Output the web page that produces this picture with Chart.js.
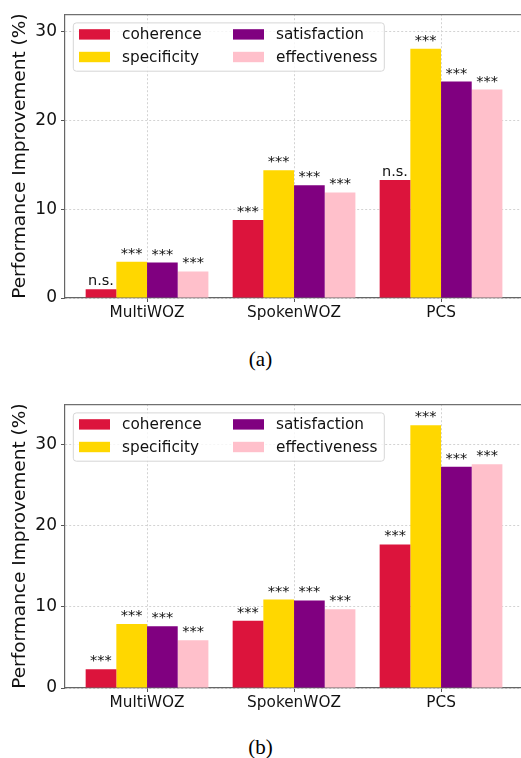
<!DOCTYPE html>
<html>
<head>
<meta charset="utf-8">
<script src="https://cdn.jsdelivr.net/npm/chart.js@4.4.1/dist/chart.umd.min.js"></script>
<style>
  html, body { margin: 0; padding: 0; background: #fff; overflow: hidden; width: 521px; height: 758px; }
  .panel { position: absolute; left: 0; width: 521px; height: 330px; }
  .caption { position: absolute; left: 0; width: 521px; text-align: center; font-family: 'Liberation Serif', 'Times New Roman', serif; font-size: 21px; line-height: 24px; color: #000; }
</style>
</head>
<body>
<div class="panel" style="top: 0px;"><canvas id="chartA"></canvas></div>
<div class="caption" style="top: 347px;">(a)</div>
<div class="panel" style="top: 390px;"><canvas id="chartB"></canvas></div>
<div class="caption" style="top: 735px;">(b)</div>
<script>
const datasetNames = ['MultiWOZ', 'SpokenWOZ', 'PCS']
const metrics = ['coherence', 'specificity', 'satisfaction', 'effectiveness']
const metricColors = ['#dc143c', '#ffd700', '#800080', '#ffc0cb']

// panel (a)
const coherenceA = [1.0, 8.8, 13.3]
const specificityA = [4.1, 14.4, 28.1]
const satisfactionA = [4.0, 12.7, 24.4]
const effectivenessA = [3.0, 11.9, 23.5]
const coherenceSigA = ['n.s.', '***', 'n.s.']
const specificitySigA = ['***', '***', '***']
const satisfactionSigA = ['***', '***', '***']
const effectivenessSigA = ['***', '***', '***']

// panel (b)
const coherenceB = [2.3, 8.3, 17.7]
const specificityB = [7.9, 10.9, 32.4]
const satisfactionB = [7.6, 10.8, 27.3]
const effectivenessB = [5.9, 9.7, 27.6]
const coherenceSigB = ['***', '***', '***']
const specificitySigB = ['***', '***', '***']
const satisfactionSigB = ['***', '***', '***']
const effectivenessSigB = ['***', '***', '***']

Chart.defaults.font.family = '"DejaVu Sans", sans-serif'
Chart.defaults.color = '#000'

// significance marks, top spine and the in-axes legend
const overlayPlugin = {
  id: 'overlay',
  afterDatasetsDraw (chart, args, opts) {
    const ctx = chart.ctx
    const ca = chart.chartArea
    ctx.save()

    ctx.font = '14.5px "DejaVu Sans"'
    ctx.fillStyle = '#111'
    ctx.textAlign = 'center'
    ctx.textBaseline = 'alphabetic'
    chart.data.datasets.forEach((ds, i) => {
      chart.getDatasetMeta(i).data.forEach((bar, j) => {
        ctx.fillText(opts.marks[i][j], bar.x, bar.y - 4)
      })
    })

    ctx.strokeStyle = '#707070'
    ctx.lineWidth = 1.2
    ctx.beginPath()
    ctx.moveTo(ca.left, ca.top + 0.5)
    ctx.lineTo(chart.width, ca.top + 0.5)
    ctx.stroke()

    // legend box, filled column by column like matplotlib ncol=2
    const bx = ca.left + 8.3
    const by = ca.top + 8.7
    ctx.beginPath()
    ctx.roundRect(bx, by, 311, 48.3, 3)
    ctx.fillStyle = 'rgba(255,255,255,0.8)'
    ctx.fill()
    ctx.strokeStyle = '#d6d6d6'
    ctx.lineWidth = 1
    ctx.stroke()

    ctx.font = '15.3px "DejaVu Sans"'
    ctx.textAlign = 'left'
    ctx.textBaseline = 'middle'
    const colX = [ca.left + 14, ca.left + 168]
    const rowY = [ca.top + 20.2, ca.top + 42.8]
    chart.data.datasets.forEach((ds, i) => {
      const x = colX[Math.floor(i / 2)]
      const y = rowY[i % 2]
      ctx.fillStyle = ds.backgroundColor
      ctx.fillRect(x, y - 5.2, 31, 10.4)
      ctx.fillStyle = '#111'
      ctx.fillText(ds.label, x + 43, y + 1)
    })
    ctx.restore()
  }
}

function makeChart (id, series, marks, yMax) {
  return new Chart(document.getElementById(id), {
    type: 'bar',
    data: {
      datasets: metrics.map((m, i) => ({
        label: m,
        data: series[i].map((v, j) => ({ x: j, y: v })),
        backgroundColor: metricColors[i],
        borderWidth: 0,
        categoryPercentage: 0.835,
        barPercentage: 1.0
      }))
    },
    options: {
      responsive: true,
      maintainAspectRatio: false,
      animation: false,
      layout: { padding: { top: 14, right: 0, left: 0, bottom: 0 } },
      plugins: {
        legend: { display: false },
        tooltip: { enabled: false },
        overlay: { marks }
      },
      scales: {
        x: {
          type: 'linear',
          min: -0.558,
          max: 2.544,
          offset: false,
          afterBuildTicks: s => { s.ticks = datasetNames.map((_, i) => ({ value: i })) },
          afterFit: s => { s.height = 32 },
          ticks: { callback: v => datasetNames[v], font: { size: 15.3 }, color: '#111', padding: 2, maxRotation: 0 },
          grid: { offset: false, color: '#d3d3d3', tickLength: 4, tickColor: '#555', lineWidth: 1 },
          border: { color: '#666', width: 1.2, dash: [2, 2] }
        },
        y: {
          min: 0,
          max: yMax,
          afterFit: s => { s.width = 65 },
          ticks: { stepSize: 10, includeBounds: false, font: { size: 17 }, color: '#111', padding: 4 },
          grid: { color: '#d3d3d3', tickLength: 4, tickColor: '#555', lineWidth: 1 },
          border: { color: '#666', width: 1.2, dash: [2, 2] },
          title: { display: true, text: 'Performance Improvement (%)', font: { size: 18.5 }, color: '#111', padding: { top: 9, bottom: 0 } }
        }
      }
    },
    plugins: [overlayPlugin]
  })
}

makeChart('chartA',
  [coherenceA, specificityA, satisfactionA, effectivenessA],
  [coherenceSigA, specificitySigA, satisfactionSigA, effectivenessSigA],
  32)
makeChart('chartB',
  [coherenceB, specificityB, satisfactionB, effectivenessB],
  [coherenceSigB, specificitySigB, satisfactionSigB, effectivenessSigB],
  35)
</script>
</body>
</html>
